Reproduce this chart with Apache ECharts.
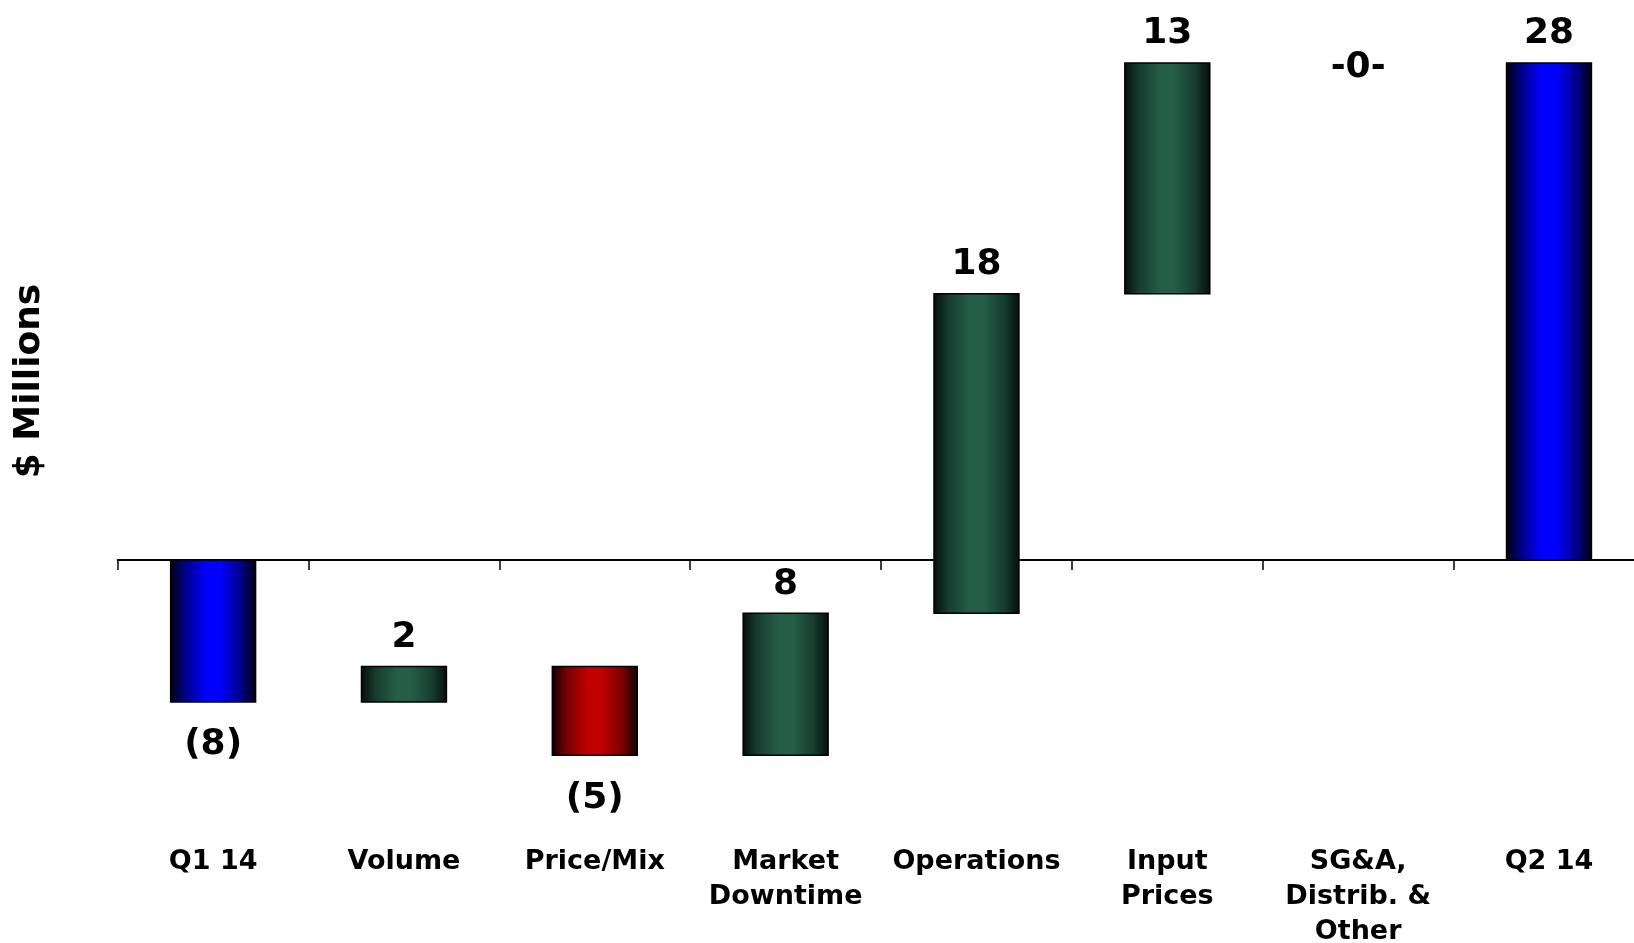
<!DOCTYPE html>
<html>
<head>
<meta charset="utf-8">
<script src="https://cdn.jsdelivr.net/npm/echarts@6/dist/echarts.min.js"></script>
<style>
html,body{margin:0;padding:0;background:#fff;}
#main{width:1634px;height:943px;}
</style>
</head>
<body>
<div id="main"></div>
<script>
// ---- data ----
var categories = ['Q1 14', 'Volume', 'Price/Mix', 'Market\nDowntime', 'Operations', 'Input\nPrices', 'SG&A,\nDistrib. &\nOther', 'Q2 14'];
var values = [-8, 2, -5, 8, 18, 13, 0, 28];
var kinds = ['total', 'delta', 'delta', 'delta', 'delta', 'delta', 'delta', 'total'];
var valueLabels = ['(8)', '2', '(5)', '8', '18', '13', '-0-', '28'];
var yAxisName = '$ Millions';

// build waterfall ranges from values
var rows = [];
var running = 0;
for (var i = 0; i < values.length; i++) {
  var start, end;
  if (kinds[i] === 'total') { start = 0; end = values[i]; running = values[i]; }
  else { start = running; end = running + values[i]; running = end; }
  rows.push([i, start, end, values[i], kinds[i]]);
}

function grad(dark, mid, bright) {
  return new echarts.graphic.LinearGradient(0, 0, 1, 0, [
    {offset: 0, color: dark},
    {offset: 0.18, color: mid},
    {offset: 0.42, color: bright},
    {offset: 0.58, color: bright},
    {offset: 0.82, color: mid},
    {offset: 1, color: dark}
  ]);
}
var fills = {
  total: grad('#00000a', '#00008a', '#0000ff'),
  up: grad('#050d0a', '#173e30', '#245d48'),
  down: grad('#0d0000', '#7a0000', '#c20000')
};

var FONT = '"DejaVu Sans", Verdana, sans-serif';
var chart = echarts.init(document.getElementById('main'));
chart.setOption({
  animation: false,
  backgroundColor: '#fff',
  grid: {left: 117.7, right: -10.4, top: 27.5, bottom: 170, containLabel: false, outerBoundsMode: 'none'},
  xAxis: [{
    type: 'category',
    data: categories,
    boundaryGap: true,
    axisLine: {show: true, onZero: true, lineStyle: {color: '#000', width: 2}},
    axisTick: {show: true, inside: false, alignWithLabel: false, interval: 0, length: 10, lineStyle: {color: '#000', width: 1.5}},
    axisLabel: {show: false},
    splitLine: {show: false}
  }, {
    type: 'category',
    data: categories,
    position: 'bottom',
    boundaryGap: true,
    axisLine: {show: false, onZero: false},
    axisTick: {show: false},
    axisLabel: {
      show: true, margin: 71, color: '#000', fontFamily: FONT, fontWeight: 'bold',
      fontSize: 27, lineHeight: 35, interval: 0, align: 'center', hideOverlap: false
    },
    splitLine: {show: false}
  }],
  yAxis: {
    type: 'value', min: -12, max: 30,
    axisLine: {show: false}, axisTick: {show: false},
    axisLabel: {show: false}, splitLine: {show: false}
  },
  graphic: [{
    type: 'text', x: 30, y: 381, rotation: Math.PI / 2,
    style: {text: yAxisName, fill: '#000', font: 'bold 36px ' + FONT, align: 'center', verticalAlign: 'middle'}
  }],
  series: [{
    type: 'custom',
    data: rows,
    xAxisIndex: 0,
    encode: {x: 0, y: [1, 2]},
    z: 1,
    renderItem: function (params, api) {
      var idx = api.value(0);
      var s = api.value(1), e = api.value(2), v = api.value(3);
      var kind = rows[params.dataIndex][4];
      var p1 = api.coord([idx, s]);
      var p2 = api.coord([idx, e]);
      var bw = api.size([1, 0])[0] * 0.445;
      var top = Math.min(p1[1], p2[1]);
      var bottom = Math.max(p1[1], p2[1]);
      var children = [];
      var fill = kind === 'total' ? fills.total : (v >= 0 ? fills.up : fills.down);
      if (bottom - top > 0.5) {
        children.push({
          type: 'rect',
          shape: {x: p1[0] - bw / 2, y: top, width: bw, height: bottom - top},
          style: {fill: fill, stroke: '#000', lineWidth: 1.5}
        });
      }
      var ly;
      if (v === 0) ly = top + 5;
      else if (v < 0) ly = bottom + 43;
      else ly = top - 29;
      children.push({
        type: 'text',
        style: {
          text: valueLabels[params.dataIndex], x: p1[0], y: ly,
          fill: '#000', font: 'bold 36px ' + FONT, align: 'center', verticalAlign: 'middle'
        }
      });
      return {type: 'group', children: children};
    }
  }]
});
</script>
</body>
</html>
